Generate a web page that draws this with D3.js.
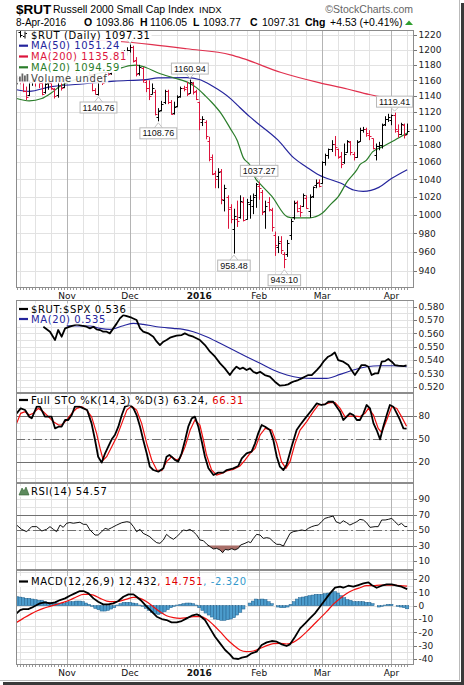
<!DOCTYPE html>
<html><head><meta charset="utf-8">
<script src="https://d3js.org/d3.v7.min.js"></script>
<style>html,body{margin:0;padding:0;background:#fff;}svg{display:block;}</style>
</head><body>
<svg id="chart" width="464" height="685"></svg>
<script>
// ================= DATA =================
// trading-day index 0 = 9-Oct-2015 ... 124 = 8-Apr-2016
const monthTicks = [
  {label:"Nov", day:16}, {label:"Dec", day:36}, {label:"2016", day:58, bold:true},
  {label:"Feb", day:77}, {label:"Mar", day:97}, {label:"Apr", day:119}];
const weekGridDays = [1,6,11,21,26,31,41,46,51,63,68,73,82,87,92,102,107,112,124];
const dayCount = 125;

const priceOpen = [1160,1163,1158,1147,1141,1158,1160,1160,1157,1145,
 1157,1157,1149,1141,1161,1151,1161,1179,1188,1178,
 1175,1195,1181,1181,1166,1148,1143,1159,1158,1171,
 1169,1176,1175,1188,1195,1197,1200,1204,1186,1170,
 1176,1158,1150,1143,1145,1114,1123,1132,1146,1132,
 1119,1128,1140,1150,1152,1144,1157,1146,1132,1108,
 1108,1085,1066,1047,1044,1050,1017,1020,1009,985,
 996,998,1015,996,1012,1010,1022,1033,1026,1005,
 1015,1006,978,965,972,958,958,978,998,1015,
 1008,1010,1019,1004,1021,1034,1037,1036,1060,1068,
 1075,1081,1076,1067,1060,1072,1084,1070,1066,1085,
 1098,1100,1092,1088,1068,1079,1080,1105,1112,1110,
 1116,1097,1093,1104,1093.86];
const priceHigh = [1166,1165,1162,1152,1160,1164,1164,1163,1160,1158,
 1162,1159,1150,1165,1162,1162,1181,1190,1191,1180,
 1199,1196,1185,1183,1168,1150,1160,1165,1172,1176,
 1176,1182,1190,1197,1199,1203,1206.4,1205,1190,1180,
 1177,1160,1160,1156,1148,1125,1134,1148,1148,1135,
 1133,1141,1152,1153,1158,1160.94,1158,1148,1133,1115,
 1110,1090,1069,1050,1053,1052,1034,1022,1012,1007,
 1016,1022,1020,1018,1022,1024,1036,1037.27,1028,1016,
 1020,1008,982,977,977,960,973,996,1016,1016,
 1011,1024,1022,1023,1032,1040,1040,1061,1070,1076,
 1086,1091,1076,1072,1082,1086,1085,1072,1086,1101,
 1102,1101,1098,1088,1082,1084,1106,1115,1118,1117,
 1119.41,1105,1107,1106,1106.05];
const priceLow = [1155,1155,1145,1135,1140,1153,1152,1150,1141,1143,
 1148,1148,1137,1138,1147,1150,1159,1176,1175,1168,
 1173,1178,1174,1166,1146,1142,1140.76,1154,1157,1166,
 1167,1172,1173,1186,1190,1192,1196,1183,1165,1166,
 1157,1145,1135,1142,1116,1108.76,1121,1130,1130,1117,
 1117,1126,1138,1146,1140,1143,1142,1135,1098,1103,
 1087,1061,1045,1030,1030,1012,1004,985,991,958.48,
 987,996,993,995,996,1001,1008,1017,1000,985,
 1004,982,956,959,958,943.10,955,973,995,1003,
 998,1009,1007,997,1019,1030,1031,1035,1056,1064,
 1072,1067,1064,1053,1058,1071,1068,1062,1065,1084,
 1095,1090,1086,1075,1062,1074,1076,1103,1108,1104,
 1095,1089,1092,1088,1093.77];
const priceClose = [1163,1160,1147,1139,1158,1162,1161,1156,1143,1155,
 1158,1150,1140,1163,1150,1161,1180,1188,1178,1173,
 1197,1182,1180,1168,1148,1143,1159,1157,1171,1168,
 1174,1179,1187,1195,1197,1199,1204,1185,1168,1177,
 1160,1150,1140,1150,1118,1122,1130,1146,1133,1118,
 1127,1139,1150,1149,1143,1158,1145,1136,1111,1112,
 1091,1064,1046,1041,1048,1018,1030,1007,996,999,
 993,1016,995,1015,1017,1020,1035,1030,1003,1010,
 1007,987,968,970,962,953,970,994,1013,1005,
 1003,1022,1008,1020,1031,1036,1033,1060,1068,1075,
 1082,1078,1066,1058,1070,1085,1072,1066,1084,1098,
 1100,1094,1091,1077,1079,1080,1104,1112,1114,1116,
 1100,1093,1105,1092.78,1097.31];

const ma200 = [[0,1215],[10,1214],[20,1213],[31,1211],[43,1206.6],[54,1201],[68,1193],[72,1188],[84,1170],[96,1157],[105,1149],[112,1142],[119,1137],[124,1135.81]];
const ma50 = [[0,1148],[4,1146],[11,1152],[20,1155],[25,1157],[31,1159],[41,1161],[45,1163],[54,1163.5],[58,1161],[62,1153],[68,1136.5],[70,1129],[74,1114.5],[76,1108],[83,1086],[88,1065],[92,1054.5],[96,1045],[103,1035.6],[107,1028],[110,1026.5],[115,1031],[119,1041],[124,1051.24]];
const ma20 = [[0,1137],[4,1134],[8,1137],[11,1144],[14,1153],[18,1160],[22,1165],[25,1168],[31,1173],[36,1179],[38,1179.6],[41,1176.5],[45,1169.4],[50,1163],[54,1158],[57,1151],[60,1140],[62,1132],[65,1118],[68,1099],[70,1086],[72,1065],[74,1057],[76,1040],[77,1036],[81,1021],[86,998],[88,997],[93,997],[97,1002],[100,1013],[102,1020],[105,1037.7],[108,1051],[109,1057],[111,1062],[113,1072],[116,1078],[120,1086],[124,1094.59]];

const priceTicks = [940,960,980,1000,1020,1040,1060,1080,1100,1120,1140,1160,1180,1200,1220];
// high/low markers; the top one's box is hidden under the legend in the reference
const extremeLabels = [
  {day:36, value:1206.40, side:"high", hidden:true},
  {day:26, value:1140.76, side:"low"},
  {day:45, value:1108.76, side:"low"},
  {day:55, value:1160.94, side:"high"},
  {day:69, value:958.48, side:"low"},
  {day:77, value:1037.27, side:"high"},
  {day:85, value:943.10, side:"low"},
  {day:120, value:1119.41, side:"high"}];

const ratioLine = [[8.5,0.565],[10.6,0.56125],[12.2,0.555],[13.2,0.5625],[14.3,0.5575],[15.4,0.56375],[16.9,0.565],[19.1,0.56675],[20.7,0.56575],[22.2,0.565],[23.3,0.56375],[24.4,0.565],[25.4,0.563],[26.5,0.5625],[27.5,0.56125],[28.6,0.56125],[29.6,0.56],[30.7,0.56375],[31.8,0.5675],[32.8,0.57125],[33.9,0.57375],[35.5,0.5725],[36.5,0.57175],[38.1,0.57],[39.2,0.56375],[40.2,0.56125],[41.8,0.56],[43.4,0.5575],[44.5,0.55375],[45.5,0.55125],[46.6,0.55375],[47.6,0.555],[48.7,0.55675],[49.7,0.5575],[50.8,0.55825],[52.4,0.55875],[53.4,0.56],[54.5,0.55875],[56.1,0.5575],[58.2,0.555],[59.8,0.55125],[61.4,0.54625],[63,0.5425],[64.6,0.5375],[66.1,0.53375],[67.7,0.52875],[68.8,0.5325],[69.8,0.535],[70.9,0.53325],[71.9,0.53425],[73,0.5325],[74.1,0.53375],[75.1,0.53125],[76.2,0.53],[77.3,0.53125],[78.8,0.52875],[80.4,0.5275],[82,0.52375],[83.6,0.52075],[85.2,0.52125],[86.2,0.52175],[87.3,0.52325],[88.4,0.52425],[89.4,0.525],[90.5,0.52625],[91.5,0.5275],[92.6,0.52875],[93.7,0.52875],[95.3,0.5325],[96.3,0.535],[97.4,0.53875],[98.9,0.5425],[100,0.54375],[101,0.54575],[102.1,0.54],[103.7,0.53875],[105.3,0.53625],[106.3,0.5325],[107.4,0.52875],[108.5,0.5325],[109.5,0.53625],[110.6,0.53625],[111.7,0.535],[112.7,0.52875],[113.8,0.53],[114.8,0.53],[115.9,0.53875],[117,0.53925],[118,0.54075],[119.1,0.53875],[120.1,0.53625],[121.2,0.53575],[122.8,0.5355],[123.8,0.536]];
const ratioMA = [[15.9,0.56575],[23.3,0.5655],[26.5,0.56375],[29.6,0.563],[33.9,0.56575],[37.1,0.5675],[40.2,0.56675],[44.5,0.565],[49.7,0.56375],[52.9,0.563],[56.1,0.56125],[60.3,0.5575],[64.6,0.5525],[68.8,0.5475],[73,0.5425],[77.3,0.5375],[81.5,0.5325],[85.8,0.52875],[89.9,0.52675],[94.2,0.52625],[98.4,0.52625],[102.7,0.52925],[106.9,0.5325],[111.1,0.535],[115.4,0.53575],[119.6,0.53575],[123.8,0.535]];
const ratioTicks = [0.52,0.53,0.54,0.55,0.56,0.57,0.58];

const stoK = [[0,83],[1.3,89.4],[2.7,87.3],[4,78.7],[4.8,76.5],[6.4,91.6],[7.4,91.6],[9,78.7],[11.1,78.7],[12.2,63.6],[13.3,65.7],[14.3,65.7],[15.4,74.4],[16.4,74.4],[17.5,80.8],[18.5,91.6],[20.1,91.6],[21.2,89.4],[22.4,87.3],[23.8,70],[24.9,48.5],[25.9,26.9],[27,19.2],[28.1,31.3],[29.1,39.9],[30.2,49.4],[31.2,55],[32.3,65.7],[33.4,80.8],[34.4,91.6],[36,93.8],[37.1,89.4],[38.1,80.8],[39.2,65.7],[40.2,48.5],[41.3,31.3],[42.3,14],[43.4,9.7],[45,7.5],[46.6,11.9],[47.6,26.9],[48.5,29.1],[49.2,26.9],[50.3,22.6],[51.3,20.5],[52.4,31.3],[53.5,48.5],[54.5,65.7],[55.6,76.5],[56.6,78.7],[57.7,65.7],[58.8,46.3],[59.8,26.9],[60.9,11.9],[62.5,3.2],[64,6.3],[65.6,6.3],[66.7,9.7],[68.8,11.9],[70.4,14.9],[71.5,24.8],[73,31.3],[74.6,33.4],[75.7,44.2],[76.7,57.1],[77.8,67.9],[78.9,65.7],[80.4,61.4],[81.5,48.5],[82.6,26.9],[83.6,14],[84.7,9.7],[85.7,16.2],[87.3,39.9],[88.9,61.4],[90,67.9],[91.6,76.5],[93.7,87.3],[95.3,95.9],[96.8,93.8],[97.9,94.6],[99,98],[100.5,98],[101.6,91.6],[102.7,85.1],[103.7,74.4],[104.8,78.7],[105.8,83],[106.9,80.8],[108,74.4],[109,74.4],[110.1,83],[111.1,93.8],[112.2,89.4],[113.3,70],[114.3,61.4],[115.4,49.4],[116.4,65.7],[117.5,80.8],[118.5,93.8],[119.6,91.6],[120.7,83],[121.7,74.4],[122.8,63.6],[123.8,63.24]];
const stoD = [[0,70],[1.3,83],[2.7,85.1],[4,80.8],[5.3,83],[6.9,89.4],[8.5,85.1],[10.1,78.7],[11.7,72.2],[13.3,67.9],[14.3,67.9],[15.9,74.4],[17.5,83],[19.1,89.4],[20.7,91.6],[22.2,87.3],[23.8,78.7],[25.4,57.1],[26.5,37.7],[27.5,22.6],[28.6,26.9],[30.2,39.9],[31.8,52.8],[33.4,70],[35,87.3],[36.5,92.5],[38.1,87.3],[39.7,70],[41.3,44.2],[42.9,22.6],[44.5,9.7],[46.1,8.8],[47.6,20.5],[49.2,26.9],[50.8,22.6],[51.9,24.8],[53.5,39.9],[55.1,61.4],[56.6,74.4],[58.2,67.9],[59.3,48.5],[60.3,29.1],[61.9,9.7],[63.5,3.2],[65.1,5.4],[66.7,8.4],[68.8,10.6],[70.9,14.9],[72.5,22.6],[74.1,31.3],[75.7,37.7],[77.3,55],[78.9,63.6],[81,61.4],[82.6,44.2],[84.1,20.5],[85.5,11.9],[86.8,20.5],[88.4,44.2],[90,61.4],[92.1,72.2],[94.2,85.1],[95.8,93.8],[97.9,95],[99.5,96.8],[101.1,96.8],[102.7,89.4],[104.2,78.7],[105.8,79.5],[107.4,79.5],[109,78.7],[110.6,83],[111.7,89.4],[113.3,80.8],[114.8,63.6],[115.9,58],[117.5,74.4],[119.1,91.6],[120.7,89.4],[122.2,78.7],[123.8,66.31]];

const rsi = [[0,56.5],[1.6,50.9],[3.2,47.9],[4.8,54.4],[6.4,54.4],[8,48.8],[9.5,50.9],[10.6,54.4],[11.7,50.9],[12.7,47.9],[13.8,56.5],[14.8,53.5],[15.9,58.8],[16.9,59.7],[18,58.8],[20.1,60.1],[21.2,57.4],[22.2,57.4],[23.3,50.1],[24.9,43.6],[25.9,43.6],[27,47.9],[28.1,52.2],[29.1,50.9],[30.2,53.1],[31.8,56.5],[33.4,59.5],[35,60.8],[36,60],[37.1,54.4],[38.1,47.9],[39.2,50.9],[40.2,45.7],[41.3,43.6],[42.3,41.4],[43.4,37.2],[44.5,33.7],[45.5,32.9],[46.6,37.2],[47.6,44.5],[48.7,40.6],[49.8,38.1],[50.8,41.4],[51.9,45.7],[52.9,50.1],[54,49.2],[55,50.9],[56.1,47.9],[57.2,43.6],[58.2,37.2],[59.3,36.3],[60.3,32.1],[61.4,28.6],[62.5,25.6],[63.5,26.4],[64.6,24.3],[65.4,20.8],[66.2,25.1],[67.2,24.3],[68.3,26],[69.3,24.3],[70.4,26.4],[71.1,30.7],[72.5,32.9],[73.6,35],[74.3,33.7],[75.2,39.3],[76.2,44.5],[77.3,43.6],[78.3,39.3],[79.4,40.2],[80.4,39.3],[81.5,35],[82.6,31.6],[83.6,31.6],[84.7,29.4],[85.7,37.2],[86.8,45.7],[87.8,47.9],[89.4,49.2],[90.5,50.1],[91.6,49.2],[92.6,52.2],[93.7,54.4],[94.7,55.7],[95.8,56.5],[96.8,60.8],[97.9,65.1],[99,66.4],[100.5,68.1],[101.4,60.8],[102.7,58.6],[103.7,62],[104.8,59.5],[105.8,56.5],[106.9,58.6],[108,60.8],[109,63.8],[110.1,62.9],[111.1,59.5],[112.2,53.5],[113.8,54.4],[114.8,54.4],[115.9,63],[117,63],[118,63.8],[119.1,65.1],[120.1,60.8],[121.2,56.5],[122.2,58.6],[123.3,54.4],[124,54.57]];

const macdLine = [[0,-5.75],[1.1,-3.25],[2.1,-2.5],[3.7,-2.5],[4.8,-1.5],[6.4,0.5],[7.4,1.75],[9,2.5],[10.6,1.75],[12.2,2.5],[13.8,4.25],[15.4,5.5],[16.9,7.5],[18.5,9.25],[20.1,11],[21.2,11],[22.8,9.25],[24.4,5.5],[25.9,3],[27.5,1],[29.1,1],[30.7,1.75],[32.3,3.5],[33.9,6.75],[35.5,8.5],[37.1,8.5],[38.1,6.75],[39.7,3.5],[41.3,-0.75],[42.9,-4.5],[44.5,-8.25],[46.1,-10],[47.6,-10.75],[49.2,-12.5],[50.8,-12.5],[52.4,-11.5],[54,-9.5],[55.6,-7.5],[57.2,-6.5],[58.2,-7.5],[59.8,-10.75],[61.4,-17],[63,-23.25],[64.6,-28.25],[66.2,-33.25],[67.7,-36.5],[68.8,-39.5],[70.4,-40],[71.5,-39],[73,-38.25],[74.6,-35.75],[76.2,-34.5],[77.8,-29.5],[79.4,-27.5],[81,-26.5],[82.6,-27],[84.2,-29],[85.7,-30.25],[86.8,-29],[88.4,-23.25],[90,-17],[91.6,-13.25],[93.1,-9.5],[94.7,-5.75],[96.3,-0.75],[97.9,4.25],[99.5,9.25],[101.1,13.5],[102.7,14.25],[103.7,13.5],[105.3,15],[106.9,14.25],[108.5,15.5],[110.1,16.75],[111.7,17.5],[112.7,15.5],[114.3,13.5],[115.9,15],[117.5,16],[119.1,16],[120.7,15],[122.2,14.25],[124,12.432]];
const macdSignal = [[0,-12.5],[2.1,-9.5],[4.3,-6.5],[6.4,-4],[8.5,-2],[10.6,-0.5],[12.7,1],[14.8,2.5],[16.9,4.25],[19.1,6.75],[21.2,8.5],[22.8,8.5],[24.4,8],[26.5,5.5],[28.6,3.5],[30.7,3],[32.8,3.5],[35,5],[37.1,6.25],[39.2,5.5],[41.3,3],[43.4,-0.75],[45.5,-4.5],[47.6,-7.5],[49.8,-9],[51.9,-9.5],[54,-9],[56.1,-8.25],[58.2,-8.25],[60.3,-10],[62.5,-14.5],[64.6,-19.5],[66.7,-25],[68.8,-29.5],[70.9,-33.25],[73,-34.5],[75.2,-34],[77.3,-32],[79.4,-30],[81.5,-28.5],[83.6,-28.25],[85.7,-28.75],[87.8,-27.5],[90,-24],[92.1,-19.5],[94.2,-14.5],[96.3,-9.5],[98.4,-4.5],[100.5,1],[102.7,5.5],[104.8,9.25],[106.9,11.75],[109,13.5],[111.1,15],[113.3,15],[115.4,15.5],[117.5,15.5],[119.6,15.5],[121.7,15],[124,14.751]];
const macdHist = [6.75,6.5,6,5.5,5.5,5,4.5,4,4,3,2.5,2.5,2.5,2,1.75,1.75,2.5,3,3,3.5,
 3.5,3,2,1,-0.5,-2,-3,-4,-4,-3.5,-2.5,-1.5,0.5,1.5,2.5,2.5,2.5,2,1.5,0.5,
 -0.5,-2,-3.5,-5,-6,-6.5,-6,-4.5,-3,-1.5,-0.5,0.5,1,1.5,2,2,1.5,0.5,-1.5,-3.5,
 -5.5,-7,-8.5,-10,-10.5,-11,-11,-10.5,-10,-9,-7,-5,-2.5,0,2,3.5,5,4.5,5,4.5,
 3,1.5,0,-1,-1.5,-1.5,-1,1,3,5,6,6.5,7,7.5,8,8.5,8.5,8.5,9,9.5,
 10,10.5,9.5,7.5,6,4.5,4,3,3,3,3,2.5,2.5,1.5,0,-1,-0.5,0.5,1,1,
 0,-0.5,-1,-1.5,-2.32];

// ================= DRAWING =================
const svg = d3.select("#chart");
const FONT = "'DejaVu Sans', Verdana, sans-serif";
const AFONT = "'Liberation Sans', Arial, sans-serif";
const L = 16, R = 414;
const RED = "#dc143c", NAVY = "#24249c", GREEN = "#2a7d2a";
const x = d3.scaleLinear().domain([-0.19, 126.16]).range([L, R]);

// page frame with shadow
svg.append("rect").attr("width",464).attr("height",685).attr("fill","#fff");
svg.append("rect").attr("x",461).attr("y",3).attr("width",3).attr("height",682).attr("fill","#3a3a3a");
svg.append("rect").attr("x",3).attr("y",682).attr("width",461).attr("height",3).attr("fill","#3a3a3a");
svg.append("line").attr("x1",459.5).attr("x2",459.5).attr("y1",0).attr("y2",681).attr("stroke","#bbb");
svg.append("line").attr("x1",0).attr("x2",460).attr("y1",680.5).attr("y2",680.5).attr("stroke","#bbb");

// ---------- header ----------
function txt(xp, yp, s, o={}) {
  return svg.append("text").attr("x",xp).attr("y",yp).text(s)
    .attr("font-family", o.f || AFONT).attr("font-size", o.s || 10.5)
    .attr("font-weight", o.b ? "bold" : "normal").attr("fill", o.c || "#000")
    .attr("text-anchor", o.a || "start");
}
txt(16, 13.5, "$RUT", {s:13.5, b:true});
txt(53, 13, "Russell 2000 Small Cap Index", {s:10.5});
txt(199, 13, "INDX", {s:9.5});
txt(413, 13, "\u00A9StockCharts.com", {s:10.5, c:"#666", a:"end"});
txt(16, 26, "8-Apr-2016", {s:10});
txt(84, 26, "O", {s:10.5, b:true}); txt(96, 26, "1093.86");
txt(140, 26, "H", {s:10.5, b:true}); txt(150, 26, "1106.05");
txt(193, 26, "L", {s:10.5, b:true}); txt(203, 26, "1093.77");
txt(250, 26, "C", {s:10.5, b:true}); txt(262, 26, "1097.31");
txt(305, 26, "Chg", {s:10.5, b:true}); txt(330, 26, "+4.53 (+0.41%)");
svg.append("path").attr("d","M405,25 L409,20.5 L413,25 Z").attr("fill","#2e9e2e");

// ---------- panel helpers ----------
function makePanel(top, bottom, id) {
  const g = svg.append("g");
  svg.append("clipPath").attr("id", id).append("rect")
    .attr("x", L).attr("y", top).attr("width", R - L).attr("height", bottom - top);
  return {g, top, bottom, clip:`url(#${id})`};
}
function vGrid(p) {
  const gg = p.g.append("g");
  weekGridDays.forEach(d => gg.append("line")
    .attr("x1", Math.round(x(d))+0.5).attr("x2", Math.round(x(d))+0.5)
    .attr("y1", p.top).attr("y2", p.bottom).attr("stroke","#e2e2e2"));
  monthTicks.forEach(t => gg.append("line")
    .attr("x1", Math.round(x(t.day))+0.5).attr("x2", Math.round(x(t.day))+0.5)
    .attr("y1", p.top).attr("y2", p.bottom).attr("stroke","#b4b4b4"));
}
function hGrid(p, y, vals, color="#e2e2e2") {
  vals.forEach(v => p.g.append("line").attr("x1", L).attr("x2", R)
    .attr("y1", Math.round(y(v))+0.5).attr("y2", Math.round(y(v))+0.5).attr("stroke", color));
}
function refLine(p, y, v, dash) {
  p.g.append("line").attr("x1", L).attr("x2", R)
    .attr("y1", Math.round(y(v))+0.5).attr("y2", Math.round(y(v))+0.5)
    .attr("stroke", "#707070").attr("stroke-width", 1)
    .attr("stroke-dasharray", dash ? "9,3,2,3" : null);
}
function rightLabels(p, y, vals, fmt) {
  vals.forEach(v => {
    const yy = y(v);
    p.g.append("line").attr("x1", R).attr("x2", R+3).attr("y1", Math.round(yy)+0.5).attr("y2", Math.round(yy)+0.5).attr("stroke","#777");
    p.g.append("text").attr("x", R+4.5).attr("y", yy).attr("dy","0.36em")
      .attr("font-family", FONT).attr("font-size", 9).attr("fill","#222").text(fmt(v));
  });
}
function border(p) {
  p.g.append("rect").attr("x", L+0.5).attr("y", p.top+0.5).attr("width", R-L-1).attr("height", p.bottom-p.top-1)
    .attr("fill","none").attr("stroke","#8c8c8c");
}
function barTicks(p) {
  const gg = p.g.append("g");
  d3.range(dayCount).forEach(i => gg.append("line")
    .attr("x1", Math.round(x(i))+0.5).attr("x2", Math.round(x(i))+0.5)
    .attr("y1", p.bottom).attr("y2", p.bottom+2).attr("stroke","#999"));
}
function monthLabels(yBase) {
  monthTicks.forEach(t => svg.append("text").attr("x", x(t.day)).attr("y", yBase)
    .attr("text-anchor","middle").attr("font-family", FONT).attr("font-size", 9)
    .attr("font-weight", t.bold ? "bold" : "normal").attr("fill","#111").text(t.label));
}
function legend(p, baseline, parts, icon, bgOpacity=0.88) {
  const row = p.g.append("g");
  const bg = row.append("rect");
  const t = row.append("text").attr("x", 31).attr("y", baseline)
    .attr("font-family", FONT).attr("font-size", 10).attr("letter-spacing", 0.6);
  parts.forEach(pp => t.append("tspan").attr("fill", pp.c).text(pp.t));
  const bb = t.node().getBBox();
  bg.attr("x", 17).attr("y", bb.y).attr("width", bb.x + bb.width - 17 + 1).attr("height", bb.height)
    .attr("fill","#fff").attr("opacity", bgOpacity);
  icon(row, baseline);
}
const dashIcon = col => (g, b) => g.append("line").attr("x1",19).attr("x2",28)
  .attr("y1", b-3.5).attr("y2", b-3.5).attr("stroke", col).attr("stroke-width", 2.2);

// ================= PRICE PANEL =================
const pP = makePanel(30, 288, "cp");
const yP = d3.scaleLog().domain([1226.1, 922.8]).range([30, 288]);
pP.g.append("rect").attr("x",L).attr("y",30).attr("width",R-L).attr("height",258).attr("fill","#fff");
hGrid(pP, yP, priceTicks);
vGrid(pP);

const dataG = pP.g.append("g").attr("clip-path", pP.clip);
const lineP = d3.line().x(d => x(d[0])).y(d => yP(d[1])).curve(d3.curveMonotoneX);
dataG.append("path").attr("d", lineP(ma200)).attr("fill","none").attr("stroke","#e0304e").attr("stroke-width",1.2);
dataG.append("path").attr("d", lineP(ma50)).attr("fill","none").attr("stroke",NAVY).attr("stroke-width",1.2);
dataG.append("path").attr("d", lineP(ma20)).attr("fill","none").attr("stroke",GREEN).attr("stroke-width",1.2);

// OHLC bars
const bars = d3.range(dayCount).map(i => ({
  i, o: priceOpen[i], h: priceHigh[i], l: priceLow[i], c: priceClose[i],
  up: i === 0 ? priceClose[i] >= priceOpen[i] : priceClose[i] >= priceClose[i-1]}));
const barG = dataG.selectAll("g.bar").data(bars).join("g").attr("class","bar")
  .attr("stroke", d => d.up ? "#000" : RED).attr("stroke-width", 1);
barG.append("line").attr("x1", d => Math.round(x(d.i))+0.5).attr("x2", d => Math.round(x(d.i))+0.5)
  .attr("y1", d => yP(d.h)).attr("y2", d => yP(d.l));
barG.append("line").attr("x1", d => Math.round(x(d.i))-1.5).attr("x2", d => Math.round(x(d.i))+0.5)
  .attr("y1", d => Math.round(yP(d.o))+0.5).attr("y2", d => Math.round(yP(d.o))+0.5);
barG.append("line").attr("x1", d => Math.round(x(d.i))+0.5).attr("x2", d => Math.round(x(d.i))+2.5)
  .attr("y1", d => Math.round(yP(d.c))+0.5).attr("y2", d => Math.round(yP(d.c))+0.5);

// extreme labels
extremeLabels.forEach(e => {
  const cx = x(e.day), vy = yP(e.value);
  const g = dataG.append("g");
  let boxTop, tip, base;
  if (e.side === "low") { boxTop = vy + 6.5; tip = vy + 1.5; base = boxTop; }
  else { boxTop = vy - 5.5 - 11; tip = vy - 1.5; base = boxTop + 11; }
  g.append("path").attr("d", `M${cx-4},${base} L${cx},${tip} L${cx+4},${base}`)
    .attr("fill","#fff").attr("stroke","#c4c4c4");
  if (e.hidden) return;
  const t = g.append("text").attr("x", cx).attr("text-anchor","middle")
    .attr("font-family", AFONT).attr("font-size", 9).attr("fill","#111").text(e.value.toFixed(2));
  const w = t.node().getComputedTextLength() + 5;
  g.insert("rect", "text").attr("x", cx - w/2).attr("y", boxTop).attr("width", w).attr("height", 11)
    .attr("fill","#fff").attr("stroke","#b8b8b8");
  t.attr("y", boxTop + 8.6);
});

// legend
legend(pP, 38.5, [{t:"$RUT (Daily) 1097.31", c:"#000"}], (g,b) => {
  [[20,b-8,b-1,b-6,b-3],[24.5,b-7,b,b-2,b-5]].forEach(a => {
    g.append("line").attr("x1",a[0]+0.5).attr("x2",a[0]+0.5).attr("y1",a[1]).attr("y2",a[2]).attr("stroke","#000");
    g.append("line").attr("x1",a[0]-1.5).attr("x2",a[0]).attr("y1",a[3]).attr("y2",a[3]).attr("stroke","#000");
    g.append("line").attr("x1",a[0]+1).attr("x2",a[0]+2.5).attr("y1",a[4]).attr("y2",a[4]).attr("stroke","#000");
  });
}, 1);
legend(pP, 49.2, [{t:"MA(50) 1051.24", c:NAVY}], dashIcon(NAVY), 1);
legend(pP, 60, [{t:"MA(200) 1135.81", c:RED}], dashIcon(RED), 1);
legend(pP, 70.8, [{t:"MA(20) 1094.59", c:GREEN}], dashIcon(GREEN), 1);
legend(pP, 81.5, [{t:"Volume undef", c:"#444"}], (g,b) => {
  [[19,5],[21.5,8],[24,6],[26.5,7.5]].forEach(a => g.append("rect").attr("x",a[0]).attr("y",b-a[1]).attr("width",1.8).attr("height",a[1]).attr("fill","#666"));
}, 0.9);

border(pP);
rightLabels(pP, yP, priceTicks, d => d);
barTicks(pP);
monthLabels(298.5);

// ================= RATIO PANEL =================
const pR = makePanel(300, 393, "cr");
const yR = d3.scaleLinear().domain([0.58503, 0.51527]).range([300, 393]);
hGrid(pR, yR, d3.range(0.52, 0.5851, 0.005));
vGrid(pR);
const rG = pR.g.append("g").attr("clip-path", pR.clip);
const lineR = d3.line().x(d => x(d[0])).y(d => yR(d[1]));
rG.append("path").attr("d", d3.line().x(d => x(d[0])).y(d => yR(d[1])).curve(d3.curveMonotoneX)(ratioMA)).attr("fill","none").attr("stroke",NAVY).attr("stroke-width",1.1);
rG.append("path").attr("d", lineR(ratioLine)).attr("fill","none").attr("stroke","#000").attr("stroke-width",1.8).attr("stroke-linejoin","round");
legend(pR, 312.5, [{t:"$RUT:$SPX 0.536", c:"#000"}], dashIcon("#000"), 0.85);
legend(pR, 322.5, [{t:"MA(20) 0.535", c:NAVY}], dashIcon(NAVY), 0.85);
border(pR);
rightLabels(pR, yR, ratioTicks, d => d.toFixed(3));

// ================= STO PANEL =================
const pS = makePanel(393, 483, "cs");
const yS = d3.scaleLinear().domain([109.3, -7.1]).range([393, 483]);
hGrid(pS, yS, d3.range(0, 101, 10));
vGrid(pS);
refLine(pS, yS, 80); refLine(pS, yS, 20); refLine(pS, yS, 50, true);
const sG = pS.g.append("g").attr("clip-path", pS.clip);
const lineS = d3.line().x(d => x(d[0])).y(d => yS(d[1]));
sG.append("path").attr("d", lineS(stoD)).attr("fill","none").attr("stroke","#f01010").attr("stroke-width",1.2);
sG.append("path").attr("d", lineS(stoK)).attr("fill","none").attr("stroke","#000").attr("stroke-width",1.8).attr("stroke-linejoin","round");
legend(pS, 403.5, [{t:"Full STO %K(14,3) %D(3) 63.24, ", c:"#000"}, {t:"66.31", c:"#e00000"}], dashIcon("#000"), 0.85);
border(pS);
rightLabels(pS, yS, [20, 50, 80], d => d);

// ================= RSI PANEL =================
const pI = makePanel(483, 570, "ci");
const yI = d3.scaleLinear().domain([110.7, -1.5]).range([483, 570]);
hGrid(pI, yI, d3.range(0, 101, 10));
vGrid(pI);
refLine(pI, yI, 70); refLine(pI, yI, 30); refLine(pI, yI, 50, true);
const iG = pI.g.append("g").attr("clip-path", pI.clip);
iG.append("path").attr("d", d3.area().x(d => x(d[0])).y0(yI(30)).y1(d => yI(Math.min(d[1], 30)))(rsi))
  .attr("fill","#a86e68");
iG.append("path").attr("d", d3.line().x(d => x(d[0])).y(d => yI(d[1]))(rsi)).attr("fill","none").attr("stroke","#111").attr("stroke-width",1);
legend(pI, 495, [{t:"RSI(14) 54.57", c:"#000"}], (g,b) => {
  g.append("path").attr("d",`M19,${b} L22,${b-7} L24,${b-4} L26,${b-8} L29,${b} Z`).attr("fill","#5d8a5d").attr("stroke","#2f5f2f").attr("stroke-width",0.6);
}, 0.85);
border(pI);
rightLabels(pI, yI, [10, 30, 50, 70, 90], d => d);

// ================= MACD PANEL =================
const pM = makePanel(570, 665, "cm");
const yM = d3.scaleLinear().domain([26.8, -44.5]).range([570, 665]);
hGrid(pM, yM, d3.range(-40, 26, 5));
vGrid(pM);
const mG = pM.g.append("g").attr("clip-path", pM.clip);
const bw = x(1) - x(0);
mG.selectAll("rect.h").data(macdHist).join("rect").attr("class","h")
  .attr("x", (d,i) => x(i) - bw/2).attr("width", bw)
  .attr("y", d => yM(Math.max(0, d))).attr("height", d => Math.abs(yM(d) - yM(0)))
  .attr("fill","#4c9ccc").attr("stroke","#1f5f8c").attr("stroke-width",0.5);
mG.append("path").attr("d", d3.line().x(d => x(d[0])).y(d => yM(d[1])).curve(d3.curveMonotoneX)(macdSignal)).attr("fill","none").attr("stroke","#f01010").attr("stroke-width",1.2);
mG.append("path").attr("d", d3.line().x(d => x(d[0])).y(d => yM(d[1]))(macdLine)).attr("fill","none").attr("stroke","#000").attr("stroke-width",1.8).attr("stroke-linejoin","round");
legend(pM, 585, [{t:"MACD(12,26,9) 12.432", c:"#000"}, {t:", 14.751", c:"#e00000"}, {t:", -2.320", c:"#3399cc"}], dashIcon("#000"), 0.85);
border(pM);
rightLabels(pM, yM, [20, 10, 0, -10, -20, -30, -40], d => d);
barTicks(pM);
monthLabels(676);
</script>
</body></html>
